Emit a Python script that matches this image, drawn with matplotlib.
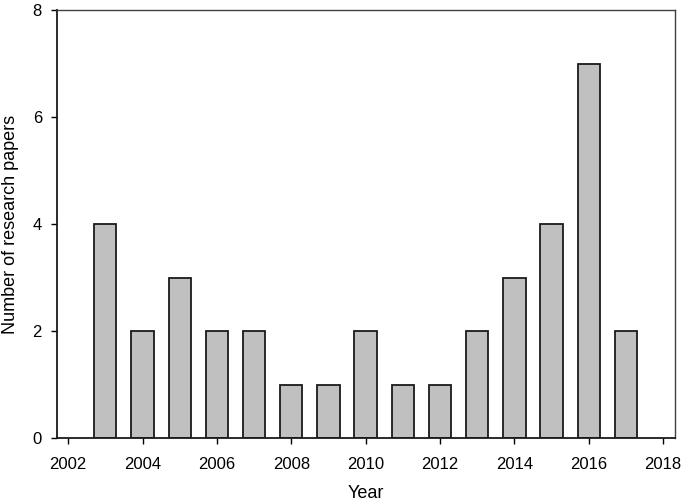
import matplotlib.pyplot as plt

plt.rcParams['font.family'] = ['Liberation Sans', 'DejaVu Sans']

years = [2003, 2004, 2005, 2006, 2007, 2008, 2009, 2010, 2011, 2012, 2013, 2014, 2015, 2016, 2017]
papers = [4, 2, 3, 2, 2, 1, 1, 2, 1, 1, 2, 3, 4, 7, 2]

fig = plt.figure(figsize=(6.85, 5.03), dpi=100)
ax = fig.add_axes([0.0832, 0.1292, 0.9022, 0.8508])

ax.bar(years, papers, width=0.6, color='#c0c0c0', edgecolor='#1a1a1a', linewidth=1.3)

ax.set_xlim(2001.7, 2018.32)
ax.set_ylim(0, 8)
ax.set_xticks(range(2002, 2019, 2))
ax.set_yticks(range(0, 9, 2))

for s in ['left', 'bottom']:
    ax.spines[s].set_color('#1a1a1a')
    ax.spines[s].set_linewidth(1.3)
for s in ['top', 'right']:
    ax.spines[s].set_color('#404040')
    ax.spines[s].set_linewidth(1.0)

ax.tick_params(direction='out', length=4.3, width=1, labelsize=12, colors='black')
ax.tick_params(axis='x', pad=9.5)
ax.tick_params(axis='y', pad=6.5)
ax.set_xlabel('Year', fontsize=13, labelpad=9)
ax.set_ylabel('Number of research papers', fontsize=13, labelpad=10)

fig.savefig('out.png', dpi=100)
